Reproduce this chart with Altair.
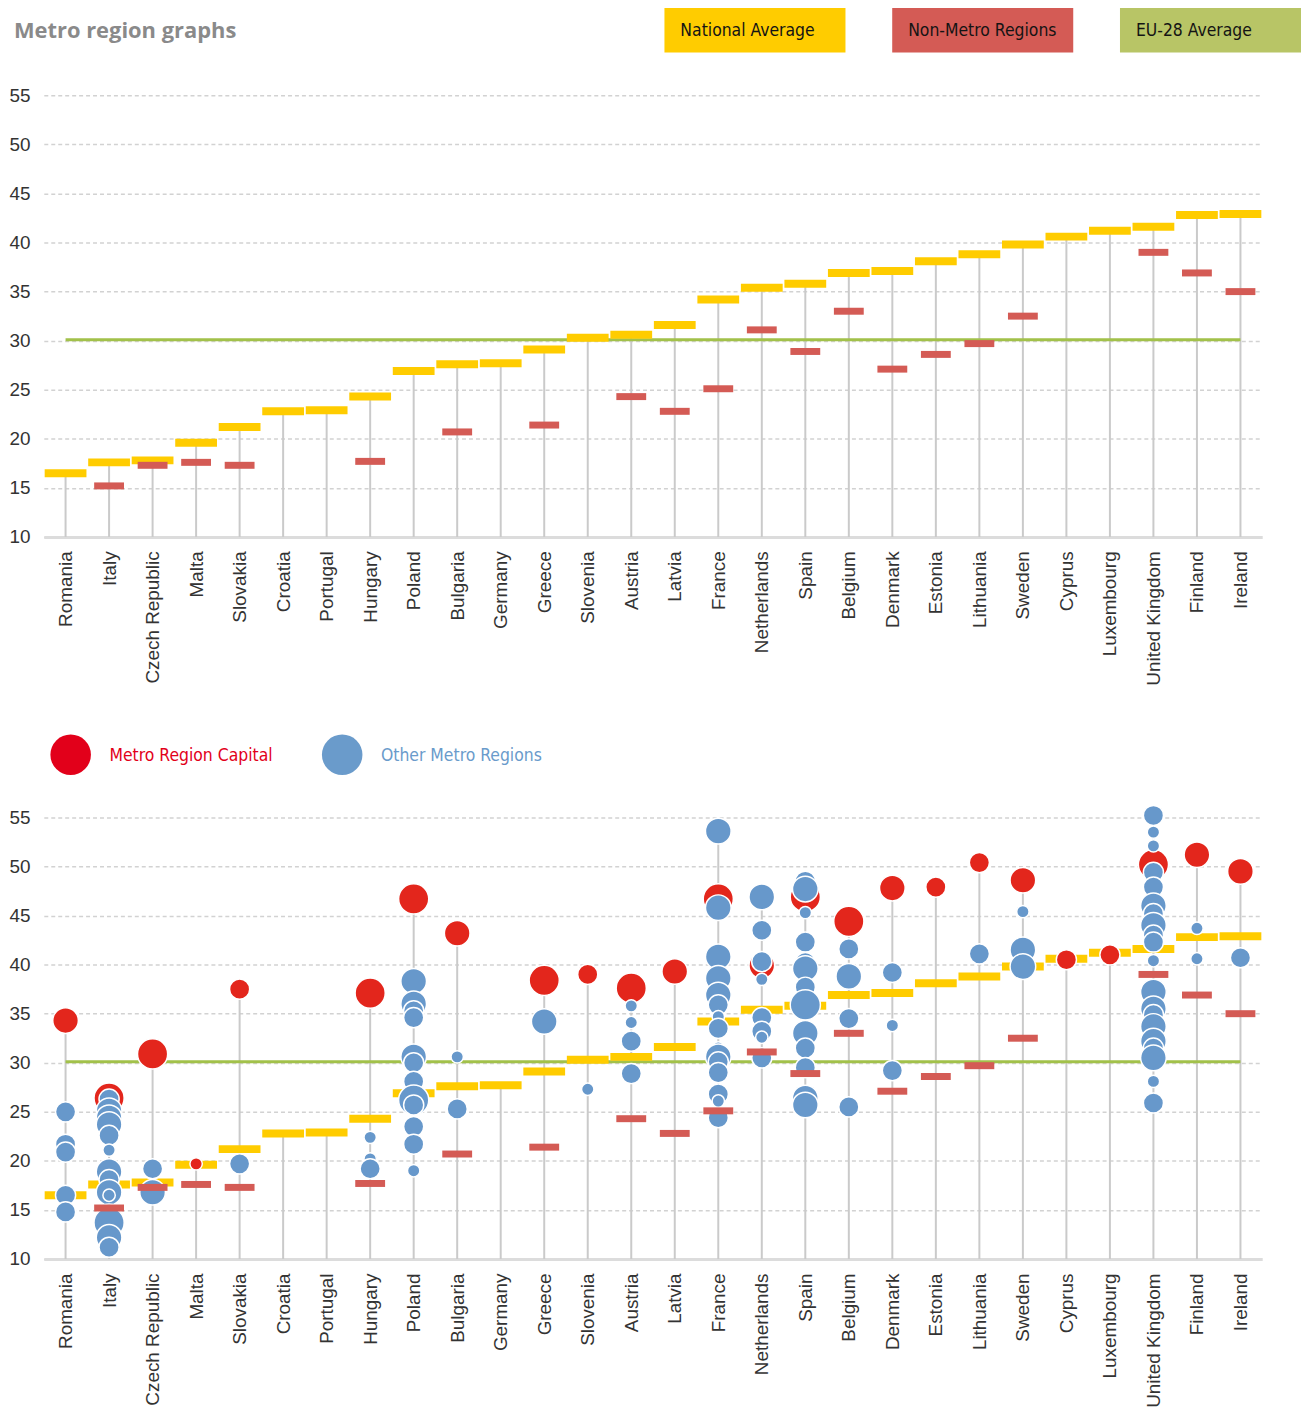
import altair as alt
import pandas as pd

# ---------------- data ----------------
countries = ["Romania", "Italy", "Czech Republic", "Malta", "Slovakia", "Croatia", "Portugal",
             "Hungary", "Poland", "Bulgaria", "Germany", "Greece", "Slovenia", "Austria", "Latvia",
             "France", "Netherlands", "Spain", "Belgium", "Denmark", "Estonia", "Lithuania",
             "Sweden", "Cyprus", "Luxembourg", "United Kingdom", "Finland", "Ireland"]

national_avg = [16.5, 17.6, 17.8, 19.6, 21.2, 22.8, 22.9, 24.3, 26.9, 27.6, 27.7, 29.1, 30.3, 30.6,
                31.6, 34.2, 35.4, 35.8, 36.9, 37.1, 38.1, 38.8, 39.8, 40.6, 41.2, 41.6, 42.8, 42.9]

non_metro = [None, 15.2, 17.3, 17.6, 17.3, None, None, 17.7, None, 20.7, None, 21.4, None, 24.3,
             22.8, 25.1, 31.1, 28.9, 33.0, 27.1, 28.6, 29.7, 32.5, None, None, 39.0, 36.9, 35.0]

eu28_avg = 30.1
axis_base = 10

capital_value = [34.3, 26.4, 30.9, 19.7, 37.5, None, None, 37.1, 46.7, 43.2, None, 38.4, 39.0, 37.6,
                 39.3, 46.7, 39.9, 46.9, 44.4, 47.8, 47.9, 50.4, 48.6, 40.5, 41.0, 50.2, 51.2, 49.5]
# bubble size class (1 = smallest ... 4 = largest)
capital_size = [3, 4, 4, 1, 2, None, None, 4, 4, 3, None, 4, 2, 4,
                3, 4, 3, 4, 4, 3, 2, 2, 3, 2, 2, 4, 3, 3]

metro_values = {
    "Romania": [25.0, 21.7, 20.9, 16.5, 14.8],
    "Italy": [26.3, 25.1, 24.4, 23.7, 22.6, 21.1, 18.9, 18.1, 16.8, 16.5, 14.3, 13.7, 12.2, 11.2],
    "Czech Republic": [19.2, 16.8],
    "Slovakia": [19.7],
    "Hungary": [22.4, 20.2, 19.2],
    "Poland": [38.3, 36.0, 35.3, 34.6, 30.6, 30.0, 28.1, 26.2, 25.7, 23.5, 21.7, 19.0],
    "Bulgaria": [30.6, 25.3],
    "Greece": [34.2],
    "Slovenia": [27.3],
    "Austria": [35.8, 34.1, 32.2, 28.9],
    "France": [53.6, 45.8, 40.8, 38.6, 36.9, 35.9, 34.7, 33.5, 31.5, 30.6, 30.1, 29.0, 26.8, 26.1, 24.4],
    "Netherlands": [46.9, 43.5, 40.3, 38.5, 34.6, 33.2, 32.6, 30.5],
    "Spain": [48.5, 47.7, 45.3, 42.3, 40.2, 39.6, 37.7, 35.9, 33.0, 31.5, 29.5, 26.4, 25.7],
    "Belgium": [41.6, 38.8, 34.5, 25.5],
    "Denmark": [39.2, 33.8, 29.2],
    "Lithuania": [41.1],
    "Sweden": [45.4, 41.5, 39.8],
    "United Kingdom": [55.2, 53.5, 52.1, 49.4, 47.9, 46.0, 45.2, 44.0, 43.0, 42.3, 40.4, 37.7, 37.2,
                       35.5, 34.9, 33.7, 32.2, 31.5, 30.5, 28.1, 25.9],
    "Finland": [43.7, 40.6],
    "Ireland": [40.7],
}
metro_sizes = {
    "Romania": [2, 2, 2, 2, 2],
    "Italy": [2, 3, 3, 3, 2, 1, 3, 2, 3, 1, 3, 4, 3, 2],
    "Czech Republic": [2, 3],
    "Slovakia": [2],
    "Hungary": [1, 1, 2],
    "Poland": [3, 3, 2, 2, 3, 2, 2, 4, 2, 2, 2, 1],
    "Bulgaria": [1, 2],
    "Greece": [3],
    "Slovenia": [1],
    "Austria": [1, 1, 2, 2],
    "France": [3, 3, 3, 3, 3, 2, 1, 2, 1, 3, 2, 2, 2, 1, 2],
    "Netherlands": [3, 2, 2, 1, 2, 2, 1, 2],
    "Spain": [2, 3, 1, 2, 2, 3, 2, 4, 3, 2, 2, 3, 3],
    "Belgium": [2, 3, 2, 2],
    "Denmark": [2, 1, 2],
    "Lithuania": [2],
    "Sweden": [1, 3, 3],
    "United Kingdom": [2, 1, 1, 2, 2, 3, 2, 3, 2, 2, 1, 1, 3, 3, 2, 3, 3, 2, 3, 1, 2],
    "Finland": [1, 1],
    "Ireland": [2],
}

legend_top = ["National Average", "Non-Metro Regions", "EU-28 Average"]
legend_metro = ["Metro Region Capital", "Other Metro Regions"]
title_text = "Metro region graphs"

# ---------------- frames ----------------
countries_df = pd.DataFrame({"country": countries, "national": national_avg, "eu": eu28_avg})
nonmetro_df = pd.DataFrame({"country": countries, "nonmetro": non_metro}).dropna()
capital_df = pd.DataFrame({"country": countries, "value": capital_value, "sz": capital_size}).dropna()
capital_df["sz"] = capital_df["sz"].astype(int)
metro_rows = []
for c in countries:
    for v, s in zip(metro_values.get(c, []), metro_sizes.get(c, [])):
        metro_rows.append({"country": c, "value": v, "sz": s})
metro_df = pd.DataFrame(metro_rows)

tops = {c: n for c, n in zip(countries, national_avg)}
for _, r in pd.concat([capital_df, metro_df]).iterrows():
    tops[r["country"]] = max(tops[r["country"]], r["value"])
stem_bottom_df = pd.DataFrame({"country": countries, "base": axis_base, "top": [tops[c] for c in countries]})
stem_top_df = pd.DataFrame({"country": countries, "base": axis_base, "top": national_avg})

# ---------------- styles ----------------
W, H = 1225, 444
YELLOW = "#FFCC00"
REDBAR = "#D45B55"
GREEN = "#A2C14A"
CAPRED = "#E3261C"
BLUE = "#6798CB"
STEM = "#CACACA"
AXIS_FONT = "Liberation Sans, Arial, sans-serif"
NARROW = "DejaVu Sans Condensed, Liberation Sans Narrow, sans-serif"

x_enc = alt.X("country:N", sort=countries,
              scale=alt.Scale(type="point", domain=countries, padding=0.5),
              axis=alt.Axis(title=None, labelAngle=-90, labelFontSize=19, labelColor="#333333",
                            labelFont=AXIS_FONT, labelPadding=14, ticks=False, grid=False,
                            domainColor="#DCDCDC", domainWidth=3))
y_scale = alt.Scale(domain=[10, 55], nice=False, zero=False)
y_axis = alt.Axis(title=None, values=list(range(10, 56, 5)), grid=True, gridDash=[4, 3],
                  gridColor="#D2D2D2", gridWidth=1.5, domain=False, ticks=False,
                  labelFontSize=19, labelColor="#333333", labelFont=AXIS_FONT, labelPadding=14)


def y_enc(field):
    return alt.Y(field, scale=y_scale, axis=y_axis)


def stems(df):
    return alt.Chart(df).mark_rule(color=STEM, strokeWidth=2).encode(
        x=x_enc, y=y_enc("base:Q"), y2="top:Q")


green = alt.Chart(countries_df).mark_line(color=GREEN, strokeWidth=3).encode(x=x_enc, y=y_enc("eu:Q"))
yellow = alt.Chart(countries_df).mark_tick(color=YELLOW, size=42, thickness=8, opacity=1).encode(
    x=x_enc, y=y_enc("national:Q"))
redbars = alt.Chart(nonmetro_df).mark_tick(color=REDBAR, size=30, thickness=7, opacity=1).encode(
    x=x_enc, y=y_enc("nonmetro:Q"))

top_chart = alt.layer(stems(stem_top_df), green, yellow, redbars).properties(width=W, height=H)

size_scale = alt.Scale(type="linear", domain=[1, 4], range=[155, 920], zero=False)
capitals = alt.Chart(capital_df).mark_circle(opacity=1, color=CAPRED, stroke="white", strokeWidth=1.5).encode(
    x=x_enc, y=y_enc("value:Q"), size=alt.Size("sz:Q", scale=size_scale, legend=None))
metros = alt.Chart(metro_df).mark_circle(opacity=1, color=BLUE, stroke="white", strokeWidth=1.5).encode(
    x=x_enc, y=y_enc("value:Q"), size=alt.Size("sz:Q", scale=size_scale, legend=None))

bottom_chart = alt.layer(stems(stem_bottom_df), green, yellow, capitals, metros, redbars).properties(
    width=W, height=H)

# ---------------- title strip (with an invisible white anchor for layout) ----------------
title_df = pd.DataFrame({"t": [title_text]})
anchor = alt.Chart(title_df).mark_rect(color="white").encode(
    x=alt.value(-80), x2=alt.value(-79), y=alt.value(-40), y2=alt.value(-39))
title_txt = alt.Chart(title_df).mark_text(
    align="left", baseline="alphabetic", font="Open Sans, Liberation Sans, sans-serif",
    fontSize=22, fontWeight="bold", color="#8A8A8A").encode(
    x=alt.value(-30), y=alt.value(44), text="t:N")
title_chart = alt.layer(anchor, title_txt).properties(width=W, height=10)

# ---------------- top legend strip (boxes) ----------------
leg1_df = pd.DataFrame({"label": legend_top})
leg1_x = alt.X("label:N", sort=legend_top, axis=None,
               scale=alt.Scale(type="band", domain=legend_top, range=[624, 1264],
                               paddingInner=0.2052, paddingOuter=0))
leg1_color = alt.Color("label:N", legend=None,
                       scale=alt.Scale(domain=legend_top, range=[YELLOW, "#D45B55", "#B8C566"]))
leg1_boxes = alt.Chart(leg1_df).mark_rect().encode(
    x=leg1_x, y=alt.value(3), y2=alt.value(49), color=leg1_color)
leg1_text = alt.Chart(leg1_df).mark_text(
    align="left", baseline="middle", dx=-75, font=NARROW, fontSize=17.5, color="#141414").encode(
    x=leg1_x, y=alt.value(27), text="label:N")
legend1_chart = alt.layer(leg1_boxes, leg1_text).properties(width=W, height=92)

# ---------------- metro legend strip ----------------
leg2_df = pd.DataFrame({"label": legend_metro})
leg2_x = alt.X("label:N", sort=legend_metro, axis=None,
               scale=alt.Scale(type="point", domain=legend_metro, range=[27, 300], padding=0))
leg2_circ = alt.Chart(leg2_df).mark_circle(size=1660, opacity=1).encode(
    x=leg2_x, y=alt.value(219),
    color=alt.Color("label:N", legend=None,
                    scale=alt.Scale(domain=legend_metro, range=["#E2001A", "#6A9BCB"])))
leg2_text = alt.Chart(leg2_df).mark_text(
    align="left", baseline="middle", dx=39, font=NARROW, fontSize=17.5).encode(
    x=leg2_x, y=alt.value(220),
    color=alt.Color("label:N", legend=None,
                    scale=alt.Scale(domain=legend_metro, range=["#E2001A", "#6C9BCB"])),
    text="label:N")
legend2_chart = alt.layer(leg2_circ, leg2_text).properties(width=W, height=282)

chart = alt.vconcat(title_chart, legend1_chart, top_chart, legend2_chart, bottom_chart,
                    spacing=0, bounds="flush").resolve_scale(x="independent", color="independent").properties(
    padding={"top": -58, "left": -44, "right": 0, "bottom": 0}
).configure_view(stroke=None)

chart.save("out.html", embed_options={"renderer": "svg", "actions": False})
